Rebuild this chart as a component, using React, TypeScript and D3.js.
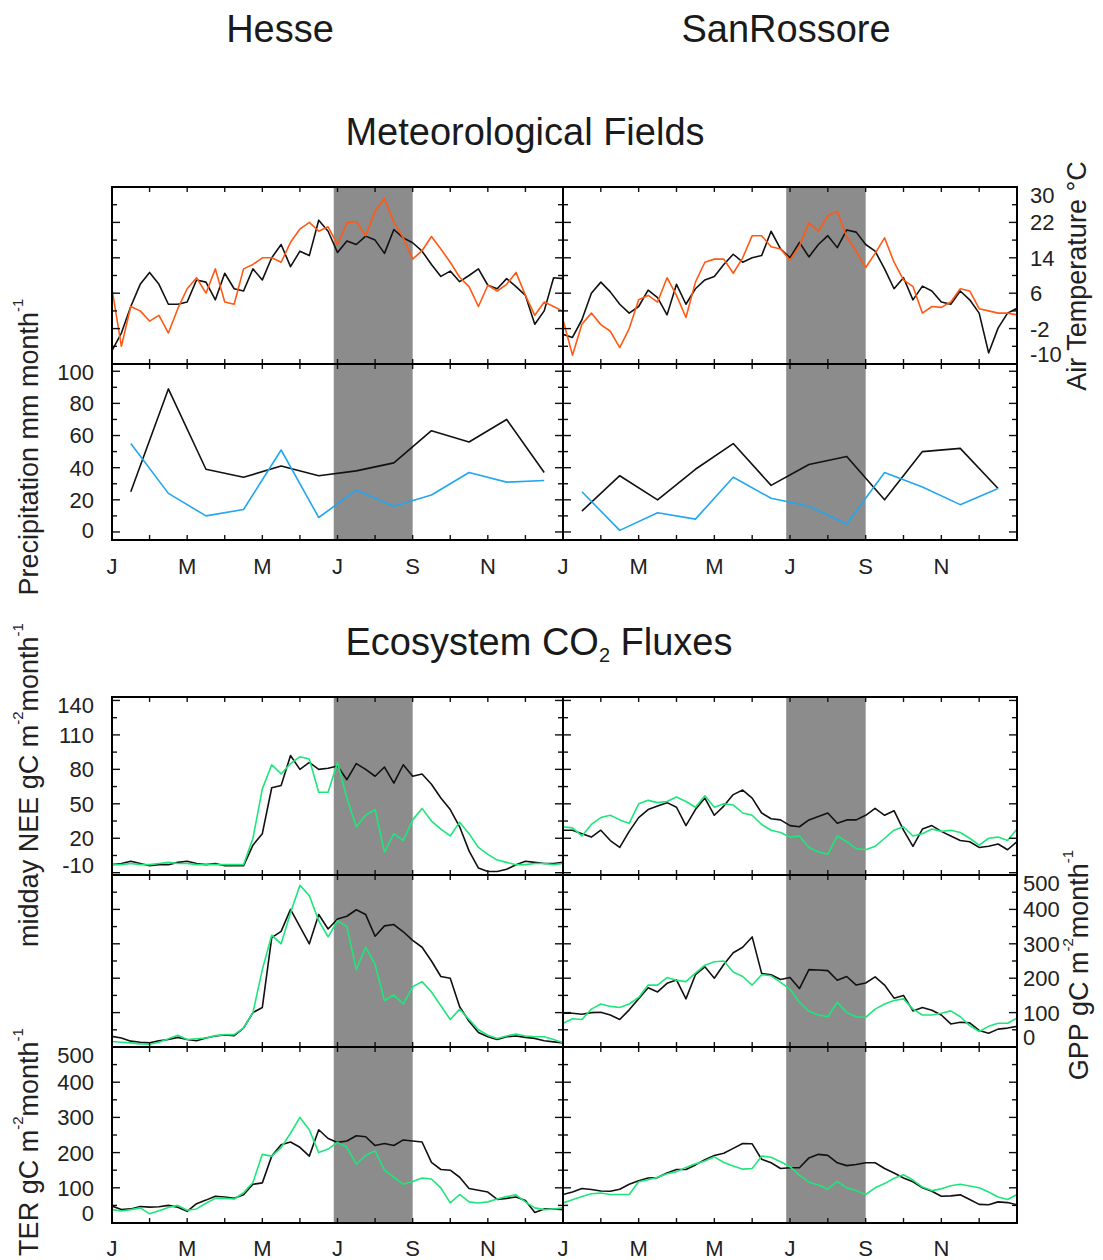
import React from 'react';
import * as d3 from 'd3';

// x positions in months since Jan 1 (quarter-month grid for daily series, mid-month for precipitation)
const quarterMonth = d3.range(49).map(i => i / 4);
const midMonth = d3.range(12).map(i => i + 0.5);

const monthLabels = ['J', 'M', 'M', 'J', 'S', 'N', 'J'];
const monthLabelPos = [0, 2, 4, 6, 8, 10, 12];
const heatwave = [5.9, 8]; // Jul 1 - Sep 1

// Air temperature (°C)
const hesseTempBlack = [-7, -3, 3, 8, 10.7, 8, 3.5, 3.5, 4, 9, 8.5, 4.5, 10.5, 7, 6.5, 11.5, 9, 14, 17, 12, 15.5, 14.5, 22.5, 20, 15.2, 17.8, 17, 18.9, 18, 15, 20.4, 18.5, 17.4, 15.5, 12.5, 9.8, 11, 8.6, 10, 11.5, 7.8, 7, 9.3, 7.5, 5.5, -1, 2, 9.5, 9.3];
const hesseTempOrange = [7, -6, 3, 2, -0.3, 1, -3, 2.5, 7, 9.5, 6, 11.5, 4, 3.5, 11.5, 12.5, 14, 14, 13, 17.5, 20.5, 22, 20, 21, 17, 21.9, 22.2, 19, 24.5, 27.4, 22, 18.5, 13.7, 15.6, 18.8, 16, 13, 9.6, 7.5, 3, 7.8, 6.5, 8, 10.7, 5.5, 1, 4, 3, 1.9];
const sanTempBlack = [-3.3, -4, 0, 6, 8.5, 6.3, 3.5, 1.5, 3, 6.7, 5, 1.1, 8, 3.5, 7, 9, 9.8, 12.5, 14.8, 13, 14, 14.5, 20, 16, 14, 17.5, 14.2, 17, 19, 16.3, 20.3, 19.8, 17, 15.5, 11.5, 7, 9.5, 4.5, 7.6, 6.5, 4, 3.5, 6.5, 4.5, 1.5, -7.5, -1.9, 1.5, 2.6];
const sanTempOrange = [0, -8, -1, 1.5, -1.1, -2.6, -6.3, -2, 4.5, 5.5, 4, 9.5, 5.5, 0.5, 8.5, 13, 13.7, 13.7, 10.5, 14, 19, 19, 16.5, 16, 13.5, 16.7, 21.9, 20, 23.5, 24.5, 18.7, 15.5, 11.8, 15, 18.5, 13, 9, 7.5, 1.5, 3, 2.8, 4, 7, 6.5, 2.5, 2, 1.5, 1.5, 1.1];

// Precipitation (mm month-1), monthly
const hessePrecipBlack = [25, 89, 39, 34, 41, 35, 38, 43, 63, 56, 70, 37];
const hessePrecipBlue = [55, 24, 10, 14, 51, 9, 26, 16, 23, 37, 31, 32];
const sanPrecipBlack = [13, 35, 20, 39, 55, 29, 42, 47, 20, 50, 52, 27];
const sanPrecipBlue = [25, 1, 12, 8, 34, 21, 16, 5, 37, 28, 17, 27];

// midday NEE (gC m-2 month-1)
const hesseNeeBlack = [-3, -2, 0, -2, -4, -3, -3, -1, 0, -2, -3, -2, -4, -4, -4, 14, 24, 64, 66, 92, 80, 86, 80, 81, 83, 71, 85, 80, 74, 82, 68, 84, 74, 76, 67, 55, 45, 30, 9, -6, -9, -9, -7, -3, 0, -1, -2, -2, -1];
const hesseNeeGreen = [-3, -3, -2, -3, -3, -2, -1, -2, -2, -3, -3, -3, -3, -3, -3, 20, 63, 84, 76, 85, 91, 89, 60, 60, 86, 55, 30, 40, 45, 8, 24, 18, 36, 46, 35, 28, 22, 34, 24, 12, 6, 1, -1, -3, -3, -2, -2, -3, -2];
const sanNeeBlack = [27, 27, 24, 21, 27, 18, 12, 26, 38, 45, 48, 51, 47, 31, 45, 55, 40, 48, 58, 62, 55, 42, 37, 36, 31, 30, 36, 39, 42, 33, 36, 36, 40, 46, 40, 44, 27, 13, 28, 31, 26, 22, 18, 17, 12, 13, 15, 10, 17];
const sanNeeGreen = [30, 29, 22, 32, 38, 40, 36, 33, 50, 53, 51, 52, 56, 52, 47, 57, 47, 50, 49, 42, 40, 32, 27, 25, 21, 22, 12, 8, 6, 22, 17, 11, 10, 13, 20, 27, 30, 22, 24, 28, 26, 27, 25, 20, 14, 20, 21, 18, 28];

// GPP (gC m-2 month-1)
const hesseGppBlack = [31, 26, 17, 14, 12, 18, 22, 28, 22, 18, 26, 32, 35, 33, 55, 100, 115, 318, 336, 400, 350, 300, 385, 343, 372, 380, 399, 385, 322, 352, 356, 335, 310, 290, 250, 205, 200, 117, 75, 42, 30, 22, 30, 32, 28, 25, 18, 15, 12];
const hesseGppGreen = [16, 14, 12, 9, 8, 14, 24, 34, 22, 24, 26, 33, 36, 36, 55, 100, 225, 325, 300, 390, 470, 440, 367, 320, 367, 350, 225, 290, 240, 135, 151, 125, 175, 190, 160, 120, 80, 110, 80, 50, 34, 25, 32, 38, 32, 30, 30, 22, 12];
const sanGppBlack = [98, 98, 95, 100, 101, 93, 80, 108, 140, 172, 160, 185, 195, 140, 210, 233, 200, 240, 274, 290, 320, 214, 210, 196, 202, 170, 225, 224, 222, 194, 205, 180, 186, 204, 180, 142, 150, 105, 115, 107, 93, 67, 72, 70, 48, 40, 52, 55, 60];
const sanGppGreen = [69, 82, 80, 110, 125, 118, 115, 125, 144, 180, 180, 202, 194, 190, 215, 238, 248, 250, 218, 205, 180, 210, 207, 188, 168, 130, 104, 93, 88, 130, 100, 88, 86, 110, 125, 135, 140, 110, 93, 93, 98, 105, 88, 62, 45, 60, 69, 69, 84];

// TER (gC m-2 month-1)
const hesseTerBlack = [48, 38, 40, 47, 45, 46, 50, 45, 33, 55, 65, 76, 74, 70, 80, 110, 114, 190, 222, 230, 215, 190, 265, 240, 229, 233, 248, 245, 220, 226, 220, 236, 233, 230, 172, 152, 150, 130, 98, 93, 88, 67, 70, 74, 64, 30, 40, 40, 38];
const hesseTerGreen = [38, 34, 38, 43, 26, 35, 44, 50, 36, 40, 56, 70, 70, 68, 86, 115, 195, 190, 214, 255, 300, 265, 200, 210, 229, 215, 167, 192, 205, 150, 130, 110, 118, 128, 125, 100, 57, 81, 60, 57, 60, 68, 75, 80, 60, 43, 38, 40, 43];
const sanTerBlack = [81, 88, 98, 95, 91, 90, 96, 110, 120, 128, 129, 142, 152, 152, 165, 180, 192, 198, 212, 226, 225, 181, 171, 155, 157, 157, 185, 195, 192, 171, 163, 166, 171, 171, 155, 142, 128, 117, 100, 90, 76, 77, 80, 67, 53, 52, 60, 58, 52];
const sanTerGreen = [57, 66, 75, 83, 85, 81, 81, 81, 117, 123, 130, 140, 146, 158, 168, 176, 188, 172, 162, 153, 155, 190, 187, 174, 160, 136, 116, 108, 96, 118, 100, 92, 81, 100, 112, 127, 137, 122, 102, 92, 97, 106, 110, 105, 100, 88, 74, 67, 81];

// axis ticks
const tempTicks = d3.range(-10, 31, 4);
const tempLabels = [30, 22, 14, 6, -2, -10];
const precipTicks = d3.range(0, 101, 10);
const precipLabels = [100, 80, 60, 40, 20, 0];
const neeTicks = d3.range(-10, 141, 15);
const neeLabels = [140, 110, 80, 50, 20, -10];
const fluxTicks = d3.range(0, 501, 50);
const fluxLabels = [500, 400, 300, 200, 100, 0];

const BLACK = '#111';
const ORANGE = '#ff5a14';
const BLUE = '#22a6f0';
const GREEN = '#1ee67a';
const SHADE = '#8c8c8c';
const FONT = '"Liberation Sans", Arial, Helvetica, sans-serif';

const cols = [[112, 563], [563, 1017]];

const yTemp = d3.scaleLinear().domain([-10, 30]).range([364, 187]);
const yPrecip = d3.scaleLinear().domain([-5, 104.5]).range([540, 364]);
const yNee = d3.scaleLinear().domain([-12, 143]).range([875, 697]);
const yGpp = d3.scaleLinear().domain([0, 500]).range([1047, 875]);
const yTer = d3.scaleLinear().domain([0, 500]).range([1223, 1047]);

type Series = { xs: number[]; values: number[]; color: string };

function Panel({ id, col, y, series, ticks, majors }: {
  id: string; col: number; y: d3.ScaleLinear<number, number>; series: Series[]; ticks: number[]; majors: number[];
}) {
  const [x0, x1] = cols[col];
  const x = d3.scaleLinear().domain([0, 12]).range([x0, x1]);
  const [yb, yt] = y.range();
  const line = d3.line<[number, number]>().x(d => x(d[0])).y(d => y(d[1]));
  return (
    <g>
      <clipPath id={id}>
        <rect x={x0} y={yt} width={x1 - x0} height={yb - yt} />
      </clipPath>
      <rect x={x(heatwave[0])} y={yt} width={x(heatwave[1]) - x(heatwave[0])} height={yb - yt} fill={SHADE} />
      <g clipPath={`url(#${id})`}>
        {series.map((s, i) => (
          <path key={i} d={line(s.xs.map((m, j) => [m, s.values[j]]))!} fill="none" stroke={s.color}
            strokeWidth={1.6} strokeLinejoin="round" />
        ))}
      </g>
      <g stroke="#111" strokeWidth={1.4}>
        {d3.range(0, 13).map(m => (
          <g key={m}>
            <line x1={x(m)} x2={x(m)} y1={yb} y2={yb - 5} />
            <line x1={x(m)} x2={x(m)} y1={yt} y2={yt + 5} />
          </g>
        ))}
        {ticks.map(v => {
          const len = majors.includes(v) ? 8 : 5;
          return (
            <g key={v}>
              <line x1={x0} x2={x0 + len} y1={y(v)} y2={y(v)} />
              <line x1={x1} x2={x1 - len} y1={y(v)} y2={y(v)} />
            </g>
          );
        })}
      </g>
      <rect x={x0} y={yt} width={x1 - x0} height={yb - yt} fill="none" stroke="#000" strokeWidth={2} />
    </g>
  );
}

function YLabels({ y, values, x, anchor }: { y: d3.ScaleLinear<number, number>; values: number[]; x: number; anchor: string }) {
  const [yb, yt] = y.range();
  return (
    <g fontSize={22} fill="#222" textAnchor={anchor}>
      {values.map(v => (
        <text key={v} x={x} y={Math.max(yt + 8, Math.min(yb - 10, y(v)))} dy="0.36em">{v}</text>
      ))}
    </g>
  );
}

function MonthLabels({ yPos }: { yPos: number }) {
  return (
    <g fontSize={22} fill="#222" textAnchor="middle">
      {cols.map(([x0, x1], c) => {
        const x = d3.scaleLinear().domain([0, 12]).range([x0, x1]);
        return monthLabels.map((lab, i) => {
          if (c === 1 && (i === 0 || i === monthLabels.length - 1)) return null;
          return <text key={`${c}-${i}`} x={x(monthLabelPos[i])} y={yPos} dy="0.36em">{lab}</text>;
        });
      })}
    </g>
  );
}

function UnitLabel({ x, y, head }: { x: number; y: number; head: string }) {
  return (
    <text transform={`translate(${x},${y}) rotate(-90)`} textAnchor="middle" fontSize={27} fill="#222">
      {head} gC m<tspan dy={-15} fontSize={15}>-2</tspan>
      <tspan dy={15}>month</tspan><tspan dy={-15} fontSize={15}>-1</tspan>
    </text>
  );
}

export default function App() {
  const temp = (b: number[], o: number[]) => [
    { xs: quarterMonth, values: b, color: BLACK },
    { xs: quarterMonth, values: o, color: ORANGE },
  ];
  const precip = (b: number[], o: number[]) => [
    { xs: midMonth, values: b, color: BLACK },
    { xs: midMonth, values: o, color: BLUE },
  ];
  const flux = (b: number[], g: number[]) => [
    { xs: quarterMonth, values: b, color: BLACK },
    { xs: quarterMonth, values: g, color: GREEN },
  ];
  return (
    <svg width={1103} height={1260} style={{ position: 'absolute', left: 0, top: 0, background: '#fff' }}
      fontFamily={FONT}>
      <rect width={1103} height={1260} fill="#fff" />
      <g fontSize={38} fill="#1a1a1a" textAnchor="middle">
        <text x={280} y={42}>Hesse</text>
        <text x={786} y={42}>SanRossore</text>
        <text x={525} y={145}>Meteorological Fields</text>
        <text x={539} y={655}>Ecosystem CO<tspan dy={7} fontSize={20}>2</tspan><tspan dy={-7}> Fluxes</tspan></text>
      </g>

      <Panel id="c1" col={0} y={yTemp} series={temp(hesseTempBlack, hesseTempOrange)} ticks={tempTicks} majors={tempLabels} />
      <Panel id="c2" col={1} y={yTemp} series={temp(sanTempBlack, sanTempOrange)} ticks={tempTicks} majors={tempLabels} />
      <Panel id="c3" col={0} y={yPrecip} series={precip(hessePrecipBlack, hessePrecipBlue)} ticks={precipTicks} majors={precipLabels} />
      <Panel id="c4" col={1} y={yPrecip} series={precip(sanPrecipBlack, sanPrecipBlue)} ticks={precipTicks} majors={precipLabels} />
      <Panel id="c5" col={0} y={yNee} series={flux(hesseNeeBlack, hesseNeeGreen)} ticks={neeTicks} majors={neeLabels} />
      <Panel id="c6" col={1} y={yNee} series={flux(sanNeeBlack, sanNeeGreen)} ticks={neeTicks} majors={neeLabels} />
      <Panel id="c7" col={0} y={yGpp} series={flux(hesseGppBlack, hesseGppGreen)} ticks={fluxTicks} majors={fluxLabels} />
      <Panel id="c8" col={1} y={yGpp} series={flux(sanGppBlack, sanGppGreen)} ticks={fluxTicks} majors={fluxLabels} />
      <Panel id="c9" col={0} y={yTer} series={flux(hesseTerBlack, hesseTerGreen)} ticks={fluxTicks} majors={fluxLabels} />
      <Panel id="c10" col={1} y={yTer} series={flux(sanTerBlack, sanTerGreen)} ticks={fluxTicks} majors={fluxLabels} />

      <YLabels y={yTemp} values={tempLabels} x={1030} anchor="start" />
      <YLabels y={yPrecip} values={precipLabels} x={94} anchor="end" />
      <YLabels y={yNee} values={neeLabels} x={94} anchor="end" />
      <YLabels y={yGpp} values={fluxLabels} x={1023} anchor="start" />
      <YLabels y={yTer} values={fluxLabels} x={94} anchor="end" />

      <MonthLabels yPos={566} />
      <MonthLabels yPos={1248} />

      <text transform="translate(1086,276) rotate(-90)" textAnchor="middle" fontSize={27} fill="#222">Air Temperature °C</text>
      <text transform="translate(38,447) rotate(-90)" textAnchor="middle" fontSize={27} fill="#222">
        Precipitation mm month<tspan dy={-15} fontSize={15}>-1</tspan>
      </text>
      <UnitLabel x={38} y={785} head="midday NEE" />
      <UnitLabel x={1088} y={965} head="GPP" />
      <UnitLabel x={38} y={1142} head="TER" />
    </svg>
  );
}
